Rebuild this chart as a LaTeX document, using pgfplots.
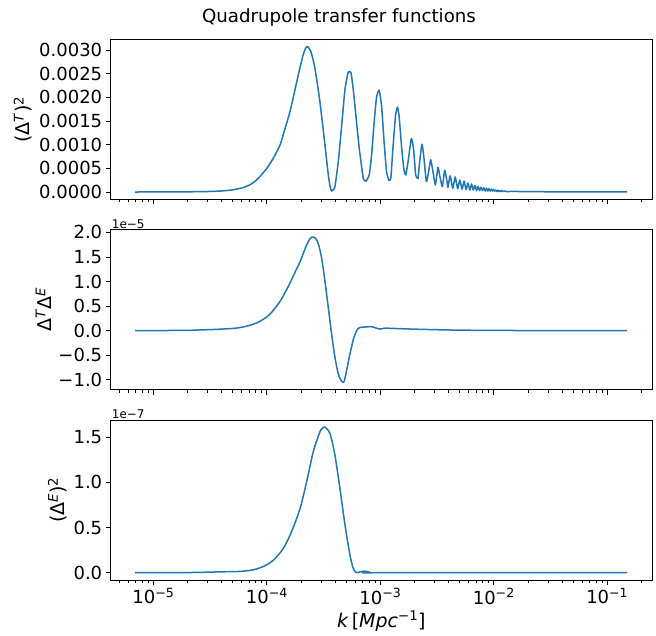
\documentclass[border=0pt]{standalone}
\usepackage{pgfplots}
\pgfplotsset{compat=1.18}
\usepackage{fontspec}
\setmainfont{DejaVu Sans}
\definecolor{mplblue}{HTML}{1F77B4}
\newcommand{\tfont}{\fontsize{18}{21}\selectfont}
\newcommand{\lfont}{\fontsize{19}{22}\selectfont}
\newcommand{\ofont}{\fontsize{12}{14}\selectfont}

\pgfplotstableread{
k v
6.9e-6 0.000000
1.0e-5 0.000001
1.5e-5 0.000002
2.0e-5 0.000004
3.0e-5 0.000010
4.0e-5 0.000022
5.0e-5 0.000045
6.0e-5 0.000085
7.0e-5 0.000145
8.0e-5 0.00024
9.0e-5 0.00037
1.0e-4 0.00050
1.15e-4 0.00073
1.31e-4 0.00100
1.45e-4 0.00135
1.60e-4 0.00170
1.72e-4 0.00203
1.83e-4 0.00232
1.96e-4 0.00263
2.09e-4 0.00290
2.20e-4 0.00304
2.29e-4 0.00307
2.43e-4 0.00298
2.55e-4 0.00280
2.66e-4 0.00259
2.80e-4 0.00225
2.94e-4 0.00189
3.10e-4 0.00142
3.25e-4 0.00099
3.37e-4 0.00065
3.48e-4 0.00036
3.60e-4 0.00012
3.72e-4 0.00002
3.85e-4 0.00005
3.98e-4 0.00011
4.26e-4 0.00064
4.56e-4 0.00140
4.88e-4 0.00217
5.21e-4 0.00253
5.51e-4 0.00252
5.77e-4 0.00217
6.09e-4 0.00161
6.52e-4 0.00092
7.07e-4 0.00029
7.46e-4 0.00023
7.98e-4 0.00036
8.37e-4 0.00078
8.82e-4 0.00147
9.26e-4 0.00200
9.76e-4 0.00215
1.025e-3 0.00182
1.080e-3 0.00105
1.134e-3 0.00043
1.189e-3 0.00025
1.237e-3 0.00029
1.297e-3 0.00099
1.360e-3 0.00161
1.416e-3 0.00179
1.463e-3 0.00161
1.535e-3 0.00099
1.609e-3 0.00050
1.676e-3 0.00036
1.755e-3 0.00064
1.878e-3 0.00113
1.968e-3 0.00088
2.050e-3 0.00036
2.148e-3 0.00029
2.222e-3 0.00064
2.329e-3 0.00101
2.424e-3 0.00071
2.546e-3 0.00022
2.668e-3 0.00043
2.778e-3 0.00068
2.911e-3 0.00043
3.055e-3 0.00015
3.220e-3 0.00052
3.33e-3 0.00036
3.52e-3 0.00011
3.69e-3 0.00046
3.87e-3 0.00022
3.95e-3 0.00010
4.12e-3 0.00034
4.35e-3 0.00008
4.57e-3 0.00032
4.80e-3 0.00007
5.02e-3 0.00025
5.25e-3 0.00006
5.47e-3 0.00023
5.70e-3 0.00005
5.92e-3 0.00019
6.15e-3 0.00004
6.37e-3 0.00017
6.60e-3 0.00004
6.82e-3 0.00014
7.05e-3 0.00003
7.27e-3 0.00012
7.50e-3 0.00003
7.72e-3 0.00010
7.95e-3 0.00003
8.17e-3 0.00009
8.40e-3 0.00002
8.62e-3 0.00008
8.85e-3 0.00002
9.07e-3 0.00007
9.30e-3 0.00002
9.52e-3 0.00006
9.75e-3 0.00002
9.97e-3 0.00005
1.02e-2 0.00002
1.042e-2 0.00004
1.065e-2 0.00001
1.087e-2 0.00004
1.11e-2 0.00001
1.132e-2 0.00003
1.155e-2 0.00001
1.18e-2 0.00003
1.20e-2 0.00001
1.25e-2 0.00002
1.30e-2 0.00001
1.5e-2 0.000012
2.0e-2 0.000008
3.0e-2 0.000005
5.0e-2 0.000003
1.0e-1 0.000001
1.5e-1 0.000001
}\TT

\pgfplotstableread{
k v
6.9e-6 0.0
1.0e-5 0.001
2.0e-5 0.006
2.6e-5 0.015
3.5e-5 0.025
5.1e-5 0.046
6.0e-5 0.07
7.1e-5 0.11
8.7e-5 0.19
1.07e-4 0.34
1.31e-4 0.60
1.45e-4 0.78
1.60e-4 0.97
1.78e-4 1.20
1.96e-4 1.40
2.10e-4 1.58
2.24e-4 1.74
2.35e-4 1.84
2.48e-4 1.90
2.66e-4 1.89
2.84e-4 1.77
3.04e-4 1.47
3.25e-4 1.00
3.48e-4 0.46
3.72e-4 -0.07
3.98e-4 -0.54
4.26e-4 -0.88
4.56e-4 -1.03
4.78e-4 -1.04
5.04e-4 -0.81
5.39e-4 -0.48
5.85e-4 -0.14
6.38e-4 0.046
7.07e-4 0.07
8.37e-4 0.08
9.26e-4 0.05
9.9e-4 0.03
1.10e-3 0.05
1.48e-3 0.04
2.0e-3 0.03
3.0e-3 0.02
5.0e-3 0.01
1.0e-2 0.005
2.0e-2 0.002
1.5e-1 0.0
}\TE

\pgfplotstableread{
k v
6.9e-6 0.0
1.0e-5 0.0
2.0e-5 0.002
3.0e-5 0.006
3.88e-5 0.010
5.82e-5 0.015
7.62e-5 0.033
9.33e-5 0.07
1.143e-4 0.14
1.397e-4 0.27
1.656e-4 0.46
1.959e-4 0.71
2.244e-4 1.01
2.565e-4 1.34
2.938e-4 1.56
3.10e-4 1.60
3.251e-4 1.61
3.597e-4 1.54
3.98e-4 1.30
4.406e-4 0.93
4.88e-4 0.53
5.39e-4 0.20
5.77e-4 0.05
6.18e-4 0.0
6.84e-4 0.015
7.57e-4 0.015
8.37e-4 0.0
1.0e-3 0.0
1.5e-1 0.0
}\EE

\pgfplotsset{
  every axis/.append style={
    scale only axis, width=541.3pt, height=160pt,
    xmin=4.2e-6, xmax=0.248,
    clip mode=individual,
    scaled y ticks=false,
    tick align=outside, xtick pos=left, ytick pos=left,
    major tick length=5pt, minor tick length=3pt,
    axis line style={line width=0.8pt},
    tick style={black, line width=0.8pt},
    tick label style={font=\tfont},
    label style={font=\lfont},
    xtick={1e-5,1e-4,1e-3,1e-2,1e-1},
    minor xtick={5e-6,6e-6,7e-6,8e-6,9e-6,2e-5,3e-5,4e-5,5e-5,6e-5,7e-5,8e-5,9e-5,2e-4,3e-4,4e-4,5e-4,6e-4,7e-4,8e-4,9e-4,2e-3,3e-3,4e-3,5e-3,6e-3,7e-3,8e-3,9e-3,2e-2,3e-2,4e-2,5e-2,6e-2,7e-2,8e-2,9e-2,2e-1},
  },
}

\begin{document}
\begin{tikzpicture}
\useasboundingbox (0,0) rectangle (656pt,-635pt);
\node[font=\fontsize{18.2}{21}\selectfont] at (339pt,-17pt) {Quadrupole transfer functions};

\begin{semilogxaxis}[at={(110.7pt,-39.3pt)}, anchor=north west,
  ymin=-0.000154, ymax=0.003224,
  ytick={0,0.0005,0.001,0.0015,0.002,0.0025,0.003},
  yticklabels={0.0000,0.0005,0.0010,0.0015,0.0020,0.0025,0.0030},
  xticklabels={},
  ylabel={(Δ\textsuperscript{\textit{T}})\textsuperscript{2}},
]
\addplot[mplblue, line width=1.5pt, line join=round, no markers, smooth, tension=0.3] table[x=k,y=v] {\TT};
\end{semilogxaxis}

\begin{semilogxaxis}[at={(110.7pt,-229.5pt)}, anchor=north west,
  ymin=-1.198, ymax=2.058,
  ytick={-1,-0.5,0,0.5,1,1.5,2},
  yticklabels={−1.0,−0.5,0.0,0.5,1.0,1.5,2.0},
  xticklabels={},
  ylabel={Δ\textsuperscript{\textit{T}}Δ\textsuperscript{\textit{E}}},
]
\addplot[mplblue, line width=1.5pt, line join=round, no markers, smooth, tension=0.5] table[x=k,y=v] {\TE};
\node[anchor=south west, font=\ofont, inner sep=1pt] at (rel axis cs:0,1) {1e−5};
\end{semilogxaxis}

\begin{semilogxaxis}[at={(110.7pt,-420pt)}, anchor=north west,
  ymin=-0.0805, ymax=1.69,
  ytick={0,0.5,1,1.5},
  yticklabels={0.0,0.5,1.0,1.5},
  xticklabels={10\textsuperscript{−5},10\textsuperscript{−4},10\textsuperscript{−3},10\textsuperscript{−2},10\textsuperscript{−1}},
  ylabel={(Δ\textsuperscript{\textit{E}})\textsuperscript{2}},
  xlabel={\textit{k}\,[\textit{Mpc}\textsuperscript{−1}]},
]
\addplot[mplblue, line width=1.5pt, line join=round, no markers, smooth, tension=0.5] table[x=k,y=v] {\EE};
\node[anchor=south west, font=\ofont, inner sep=1pt] at (rel axis cs:0,1) {1e−7};
\end{semilogxaxis}
\end{tikzpicture}
\end{document}
